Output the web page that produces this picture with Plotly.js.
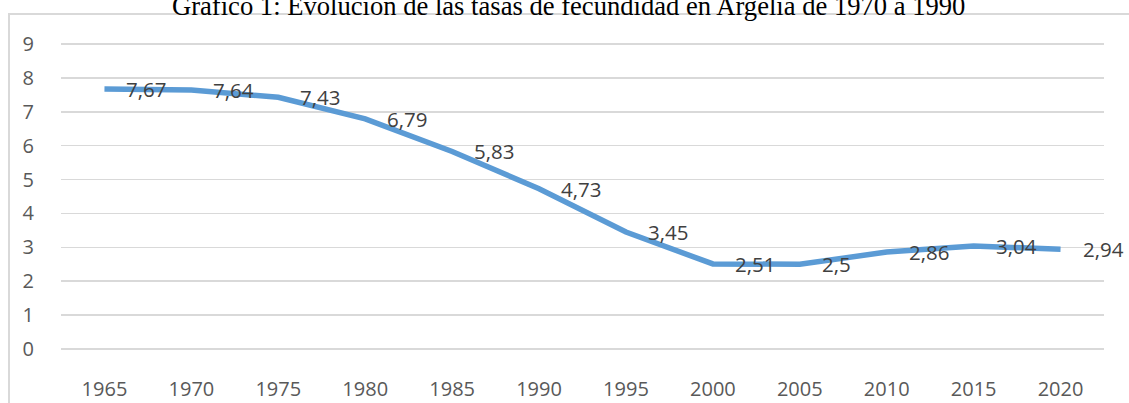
<!DOCTYPE html>
<html>
<head>
<meta charset="utf-8">
<script src="https://cdn.plot.ly/plotly-3.0.1.min.js"></script>
<style>html,body{margin:0;padding:0;background:#fff;overflow:hidden;}#chart{width:1129px;height:403px;}</style>
</head>
<body>
<div id="chart"></div>
<script>
const years = ['1965','1970','1975','1980','1985','1990','1995','2000','2005','2010','2015','2020'];
const fertility = [7.67, 7.64, 7.43, 6.79, 5.83, 4.73, 3.45, 2.51, 2.5, 2.86, 3.04, 2.94];
const yTicks = [0,1,2,3,4,5,6,7,8,9];
const chartTitle = 'Gráfico 1: Evolución de las tasas de fecundidad en Argelia de 1970 a 1990';

const labelFont = {family: '"Open Sans", "Liberation Sans", sans-serif', size: 20.5, color: '#404040'};

const annotations = years.map((yr, i) => ({
  x: i, y: fertility[i], xref: 'x', yref: 'y',
  text: String(fertility[i]).replace('.', ','),
  showarrow: false, xanchor: 'left', yanchor: 'middle', xshift: 20,
  font: labelFont
}));
annotations.push({
  x: 0.487, y: 1, xref: 'paper', yref: 'paper',
  text: chartTitle, showarrow: false, xanchor: 'center', yanchor: 'bottom', yshift: 20,
  font: {family: '"Liberation Serif", "Times New Roman", serif', size: 26.6, color: '#000000'}
});

const trace = {
  x: years, y: fertility, type: 'scatter', mode: 'lines',
  line: {color: '#5b9bd5', width: 5.5, shape: 'linear'},
  hoverinfo: 'skip'
};

const layout = {
  width: 1129, height: 403,
  margin: {l: 61, r: 25, t: 43, b: 53, pad: 0},
  paper_bgcolor: '#ffffff', plot_bgcolor: '#ffffff',
  showlegend: false,
  xaxis: {
    type: 'category', range: [-0.5, 11.5],
    showgrid: false, zeroline: false, showline: false,
    ticks: 'outside', ticklen: 21, tickcolor: 'rgba(0,0,0,0)',
    tickfont: {family: '"Open Sans", "Liberation Sans", sans-serif', size: 20, color: '#595959'}
  },
  yaxis: {
    range: [-0.03, 9.03], tickvals: yTicks, ticktext: yTicks.map(String),
    showgrid: true, gridcolor: '#d9d9d9', gridwidth: 1.6,
    zeroline: false, showline: false,
    ticks: 'outside', ticklen: 22, tickcolor: 'rgba(0,0,0,0)',
    tickfont: {family: '"Open Sans", "Liberation Sans", sans-serif', size: 20, color: '#595959'}
  },
  shapes: [{
    type: 'rect', xref: 'paper', yref: 'paper',
    x0: (9 - 61) / 1043, x1: 1.5, y0: -0.5, y1: 1 + (43 - 14) / 307,
    line: {color: '#d9d9d9', width: 2}, fillcolor: 'rgba(0,0,0,0)', layer: 'below'
  }],
  annotations: annotations
};

Plotly.newPlot('chart', [trace], layout, {displayModeBar: false, staticPlot: true});
</script>
</body>
</html>
